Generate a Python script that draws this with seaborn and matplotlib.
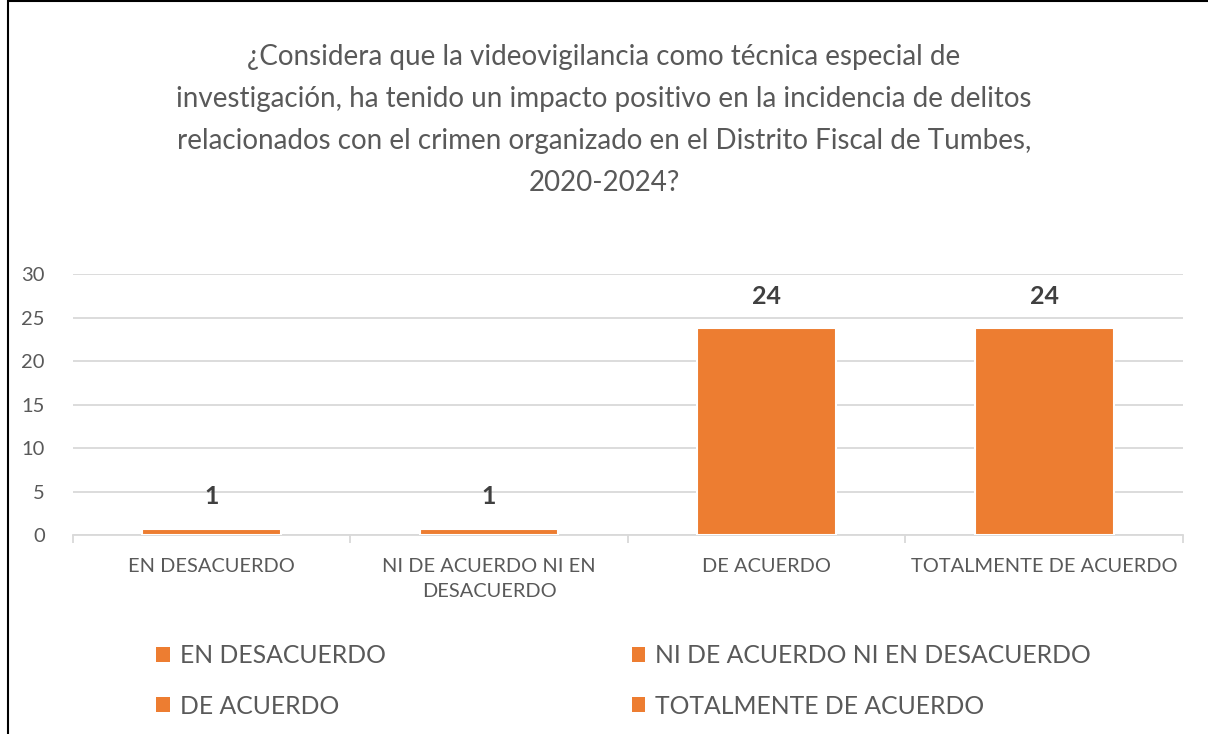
import matplotlib
matplotlib.use("Agg")
import matplotlib.pyplot as plt
import seaborn as sns
import pandas as pd
from matplotlib.patches import Rectangle, Patch
from matplotlib.ticker import FixedLocator

categories = ["EN DESACUERDO", "NI DE ACUERDO NI EN DESACUERDO", "DE ACUERDO", "TOTALMENTE DE ACUERDO"]
tick_labels = ["EN DESACUERDO", "NI DE ACUERDO NI EN\nDESACUERDO", "DE ACUERDO", "TOTALMENTE DE ACUERDO"]
values = [0.75, 0.75, 23.75, 23.75]
data_labels = ["1", "1", "24", "24"]
title = ("¿Considera que la videovigilancia como técnica especial de\n"
         "investigación, ha tenido un impacto positivo en la incidencia de delitos\n"
         "relacionados con el crimen organizado en el Distrito Fiscal de Tumbes,\n"
         "2020-2024?")

ORANGE = "#ED7D31"
TEXT = "#595959"
GRID = "#D9D9D9"

sns.set_theme(style="white")
plt.rcParams['font.family'] = ['Lato', 'DejaVu Sans']

df = pd.DataFrame({"cat": categories, "val": values})

W, H = 1208, 734
fig = plt.figure(figsize=(W / 100, H / 100), dpi=100)
ax = fig.add_axes([72.7 / W, 1 - 535.3 / H, (1183 - 72.7) / W, (535.3 - 274) / H])

sns.barplot(data=df, x="cat", y="val", hue="cat", palette=[ORANGE] * 4,
            dodge=False, width=0.5, ax=ax, legend=False, saturation=1,
            edgecolor="white", linewidth=1.5, zorder=3)

ax.set_xlim(-0.5, 3.5)
ax.set_ylim(0, 30)
ax.set_yticks(range(0, 31, 5))
ax.yaxis.grid(True, color=GRID, linewidth=1.3, zorder=0)
ax.set_axisbelow(True)
for s in ["top", "right", "left"]:
    ax.spines[s].set_visible(False)
ax.spines["bottom"].set_color(GRID)
ax.spines["bottom"].set_linewidth(1.3)
ax.set_xlabel("")
ax.set_ylabel("")
ax.set_xticks(range(4))
ax.set_xticklabels(tick_labels, fontsize=14.4, color=TEXT, linespacing=1.6)
ax.tick_params(axis="x", which="major", length=0, pad=16)
ax.xaxis.set_minor_locator(FixedLocator([-0.5, 0.5, 1.5, 2.5, 3.5]))
ax.tick_params(axis="x", which="minor", length=6, color=GRID, width=1.3, bottom=True)
ax.tick_params(axis="y", length=0, pad=20, labelsize=14.5, labelcolor=TEXT)

for i, (v, lab) in enumerate(zip(values, data_labels)):
    ax.annotate(lab, (i, v), xytext=(0, 15), textcoords="offset points",
                ha="center", va="bottom", fontsize=18, fontweight="bold", color="#404040")

fig.text(0.5, 1 - 120 / H, title, ha="center", va="center", fontsize=20,
         color=TEXT, linespacing=1.75)

handles = {c: Patch(facecolor=ORANGE, edgecolor="none", label=c) for c in categories}
order = [categories[0], categories[2], categories[1], categories[3]]
leg = fig.legend(handles=[handles[c] for c in order], ncol=2, loc="center left",
                 bbox_to_anchor=(134 / W, 1 - 681 / H), frameon=False,
                 fontsize=17.8, labelcolor=TEXT, handlelength=0.55, handleheight=0.55,
                 handletextpad=0.4, columnspacing=9.95, labelspacing=1.1)

fig.patches.append(Rectangle((8 / W, -0.1), 2, 1.1 - 1 / H, transform=fig.transFigure,
                             fill=False, edgecolor="black", linewidth=1.5))

fig.savefig("out.png", dpi=100)
